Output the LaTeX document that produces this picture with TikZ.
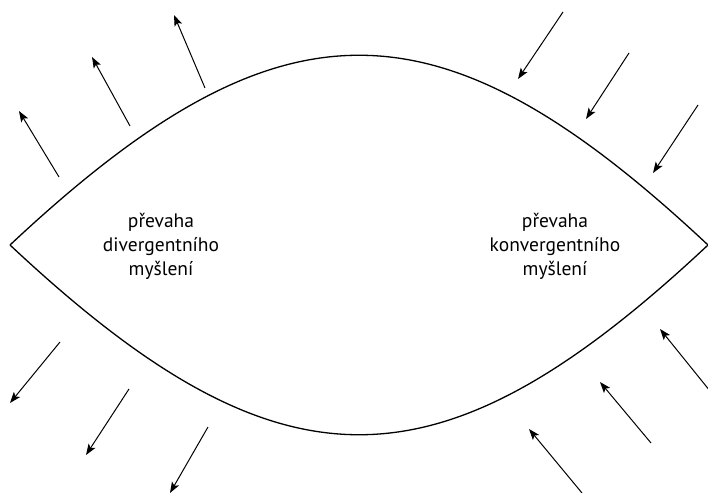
\documentclass[tikz,border=0pt]{standalone}
\usepackage{fontspec}
\setmainfont{PT Sans}
\usetikzlibrary{arrows.meta}

\tikzset{
  ray/.style={-{Stealth[length=11bp,width=8bp,inset=2.5bp]},line width=1bp},
  label/.style={align=center,font=\fontsize{19.5bp}{24bp}\selectfont,inner sep=0pt}
}

\begin{document}
\begin{tikzpicture}[x=1bp,y=-1bp]
\useasboundingbox (0,0) rectangle (708,493);

% lens
\coordinate (L) at (10,245);
\coordinate (R) at (708,245);
\draw [line width=1.3bp] (L) .. controls (280,-8) and (438,-8) .. (R)
                              .. controls (438,498) and (280,498) .. (L);

% labels
\node (D) at (161,246)[label] {převaha\\divergentního\\myšlení};
\node (K) at (555,246)[label] {převaha\\konvergentního\\myšlení};

% outgoing (divergent)
\coordinate (D1s) at (59,177);  \coordinate (D1e) at (19,111);
\coordinate (D2s) at (130,126); \coordinate (D2e) at (92,57);
\coordinate (D3s) at (205,88);  \coordinate (D3e) at (174,15);
\coordinate (D4s) at (60,342);  \coordinate (D4e) at (10,403);
\coordinate (D5s) at (129,389); \coordinate (D5e) at (86,455);
\coordinate (D6s) at (208,427); \coordinate (D6e) at (170,493);
\foreach \i in {1,...,6} \draw [ray] (D\i s) -- (D\i e);

% incoming (convergent)
\coordinate (K1s) at (563,12);  \coordinate (K1e) at (518,79);
\coordinate (K2s) at (629,53);  \coordinate (K2e) at (586,119);
\coordinate (K3s) at (698,105); \coordinate (K3e) at (653,173);
\coordinate (K4s) at (582,493); \coordinate (K4e) at (529,429);
\coordinate (K5s) at (651,443); \coordinate (K5e) at (600,382);
\coordinate (K6s) at (710,391); \coordinate (K6e) at (660,329);
\foreach \i in {1,...,6} \draw [ray] (K\i s) -- (K\i e);
\end{tikzpicture}
\end{document}
